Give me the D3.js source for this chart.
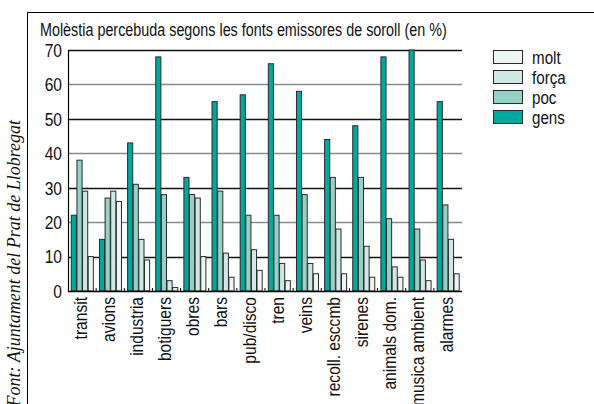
<!DOCTYPE html>
<html>
<head>
<meta charset="utf-8">
<script src="https://cdn.jsdelivr.net/npm/d3@7"></script>
<style>
  html, body { margin: 0; padding: 0; background: #fff; }
  svg { display: block; }
  .narrow { font-family: "Liberation Sans", Arial, sans-serif; }
</style>
</head>
<body>
<svg id="chart" width="594" height="404"></svg>
<script>
const title = "Molèstia percebuda segons les fonts emissores de soroll (en %)";
const source = "Font: Ajuntament del Prat de Llobregat";
const categories = ["transit","avions","industria","botiguers","obres","bars","pub/disco","tren","veins","recoll. esccmb","sirenes","animals dom.","musica ambient","alarmes"];
const gens  = [22,15,43,68,33,55,57,66,58,44,48,68,70,55];
const poc   = [38,27,31,28,28,29,22,22,28,33,33,21,18,25];
const forca = [29,29,15, 3,27,11,12, 8, 8,18,13, 7, 9,15];
const molt  = [10,26, 9, 1,10, 4, 6, 3, 5, 5, 4, 4, 3, 5];
const seriesKeys = ["gens","poc","força","molt"];
const seriesValues = [gens, poc, forca, molt];
const seriesColors = ["#00a99d","#96d1c8","#d0e8e4","#eef6f3"];
const legendOrder = ["molt","força","poc","gens"];
const yTicks = [0,10,20,30,40,50,60,70];

const SX = 0.82; // condense horizontally to mimic narrow font
const svg = d3.select("#chart");

// frame
svg.append("line").attr("x1",27.5).attr("x2",27.5).attr("y1",12).attr("y2",404).attr("stroke","#000").attr("stroke-width",1);
svg.append("line").attr("x1",27).attr("x2",594).attr("y1",12.5).attr("y2",12.5).attr("stroke","#000").attr("stroke-width",1);

// title
svg.append("text").attr("class","narrow")
  .attr("transform",`translate(40,36) scale(${SX},1)`)
  .attr("font-size",17.5).attr("fill","#111").text(title);

// source
svg.append("text")
  .attr("transform","translate(20,120) rotate(-90)")
  .attr("text-anchor","end")
  .attr("font-family","'Liberation Serif','Times New Roman',serif")
  .attr("font-style","italic")
  .attr("font-size",18)
  .attr("fill","#111")
  .text(source);

const pL = 68, pR = 462, pT = 50, pB = 291;
const y = d3.scaleLinear().domain([0,70]).range([pB, pT]);
const x = d3.scaleBand().domain(categories).range([pL, pR]).paddingInner(0.2).paddingOuter(0.1);
const x1 = d3.scaleBand().domain(seriesKeys).range([0, x.bandwidth()]);
const color = d3.scaleOrdinal().domain(seriesKeys).range(seriesColors);

// gridlines
const g = svg.append("g");
yTicks.filter(t => t > 0).forEach(t => {
  g.append("line").attr("x1",pL).attr("x2",pR)
    .attr("y1",Math.round(y(t))+0.5).attr("y2",Math.round(y(t))+0.5)
    .attr("stroke", (t % 20 === 0) ? "#8a8a8a" : "#111")
    .attr("stroke-width",1.5);
});

// bars
const groups = svg.append("g").selectAll("g").data(categories).join("g")
  .attr("transform", c => `translate(${x(c)},0)`);
groups.selectAll("rect")
  .data((c,i) => seriesKeys.map((k,j) => ({key:k, value:seriesValues[j][i]})))
  .join("rect")
  .attr("x", d => x1(d.key) + 0.5)
  .attr("width", x1.bandwidth() - 0.5)
  .attr("y", d => y(d.value))
  .attr("height", d => y(0) - y(d.value))
  .attr("fill", d => color(d.key))
  .attr("stroke", "#2a2a2a")
  .attr("stroke-width", 1);

// y axis line and baseline
svg.append("line").attr("x1",pL+0.5).attr("x2",pL+0.5).attr("y1",pT).attr("y2",pB+1).attr("stroke","#000").attr("stroke-width",1.2);
svg.append("line").attr("x1",pL).attr("x2",pR).attr("y1",pB+0.5).attr("y2",pB+0.5).attr("stroke","#000").attr("stroke-width",1.5);

// small ticks between groups
categories.slice(0,-1).forEach(c => {
  const tx = x(c) + x.bandwidth() + x.step()*x.paddingInner()/2;
  svg.append("line").attr("x1",tx).attr("x2",tx).attr("y1",pB).attr("y2",pB-3).attr("stroke","#000").attr("stroke-width",1);
});

// y tick labels
svg.append("g").selectAll("text").data(yTicks).join("text")
  .attr("class","narrow")
  .attr("transform", d => `translate(62,${y(d)}) scale(${SX},1)`)
  .attr("dy","0.36em")
  .attr("text-anchor","end").attr("font-size",19).attr("fill","#111")
  .text(d => d);

// x labels
svg.append("g").selectAll("text").data(categories).join("text")
  .attr("class","narrow")
  .attr("transform", c => `translate(${x(c) + x.bandwidth()/2 - 2},297) rotate(-90) scale(${SX},1)`)
  .attr("dy","0.35em")
  .attr("text-anchor","end").attr("font-size",19).attr("fill","#111")
  .text(c => c);

// legend
const lg = svg.append("g").selectAll("g").data(legendOrder).join("g")
  .attr("transform",(d,i) => `translate(493,${50 + i*20})`);
lg.append("rect").attr("x",0.5).attr("y",0.5).attr("width",29).attr("height",13)
  .attr("fill", d => color(d)).attr("stroke","#2a2a2a").attr("stroke-width",1);
lg.append("text").attr("class","narrow")
  .attr("transform",`translate(39,7) scale(${SX},1)`)
  .attr("dy","0.36em")
  .attr("font-size",18.5).attr("fill","#111").text(d => d);
</script>
</body>
</html>
